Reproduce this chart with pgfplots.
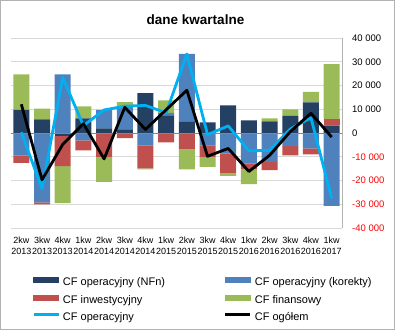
\documentclass[border=0pt]{standalone}
\usepackage{fontspec}
\setmainfont{Liberation Sans}
\usepackage{pgfplots}
\pgfplotsset{compat=1.18}
\usepackage{pgfplotstable}
\definecolor{cnfn}{RGB}{36,64,98}
\definecolor{ckor}{RGB}{79,129,189}
\definecolor{cinw}{RGB}{192,80,77}
\definecolor{cfin}{RGB}{155,187,89}
\definecolor{cop}{RGB}{0,176,240}
\pgfplotstableread{
x nfn kor inw fin op og
0 9700 -9400 -3200 15000 300 12100
1 5700 -29200 -800 4600 -23500 -19700
2 -1300 24700 -12600 -15600 23400 -4800
3 6200 -3100 -4200 5000 3100 3900
4 2000 7700 -10100 -10500 9700 -10900
5 1300 10000 -2200 1700 11300 10800
6 16800 -5200 -9700 -400 11600 1500
7 7400 1100 -3900 5200 8500 9800
8 4900 28400 -6900 -8400 33300 18000
9 4500 -5200 -4900 -4200 -700 -9800
10 11600 -8600 -8400 -1100 3000 -6500
11 5300 -12800 -2500 -6200 -7500 -16200
12 4900 -12200 -3400 1300 -7300 -9400
13 7200 -5500 -3900 2800 1700 600
14 12900 -6500 -2500 4400 6400 8300
15 3200 -30700 2500 23300 -27500 -1700
}\data
\pgfplotsset{base/.style={scale only axis, width=331pt, height=190pt,
  at={(11pt,102pt)}, anchor=south west,
  xmin=-0.5, xmax=15.5, ymin=-40000, ymax=40000}}
\begin{document}
\begin{tikzpicture}[x=1pt,y=1pt]
\useasboundingbox (0,0) rectangle (395,330);
\draw[gray!60, line width=1pt] (0.5,0.5) rectangle (394.5,329.5);
\node[font=\fontsize{13.5}{15}\selectfont\bfseries] at (195.5,310) {dane kwartalne};
% axis 1: grid, labels, positive parts
\begin{axis}[base, ybar stacked, bar width=16pt,
  axis x line*=bottom, axis y line*=right,
  x axis line style={draw=none}, y axis line style={gray!60, line width=0.8pt},
  tick style={draw=none}, scaled y ticks=false,
  ymajorgrids, grid style={gray!30, line width=0.8pt},
  ytick={-40000,-30000,...,40000},
  yticklabels={\textcolor{red}{-40 000},\textcolor{red}{-30 000},\textcolor{red}{-20 000},\textcolor{red}{-10 000},0,10 000,20 000,30 000,40 000},
  yticklabel style={font=\fontsize{9.5}{11}\selectfont, anchor=west, inner sep=0pt, xshift=10pt},
  xtick={0,...,15},
  xticklabels={{2kw\\2013},{3kw\\2013},{4kw\\2013},{1kw\\2014},{2kw\\2014},{3kw\\2014},{4kw\\2014},{1kw\\2015},{2kw\\2015},{3kw\\2015},{4kw\\2015},{1kw\\2016},{2kw\\2016},{3kw\\2016},{4kw\\2016},{1kw\\2017}},
  xticklabel style={font=\fontsize{9}{11}\selectfont, align=center, anchor=north, inner sep=0pt, yshift=-9pt},
  ]
\addplot[fill=cnfn, draw=none] table[x=x, y expr={max(\thisrow{nfn},0)}] {\data};
\addplot[fill=ckor, draw=none] table[x=x, y expr={max(\thisrow{kor},0)}] {\data};
\addplot[fill=cinw, draw=none] table[x=x, y expr={max(\thisrow{inw},0)}] {\data};
\addplot[fill=cfin, draw=none] table[x=x, y expr={max(\thisrow{fin},0)}] {\data};
\end{axis}
% axis 2: negative parts
\begin{axis}[base, ybar stacked, bar width=16pt, hide axis]
\addplot[fill=cnfn, draw=none] table[x=x, y expr={min(\thisrow{nfn},0)}] {\data};
\addplot[fill=ckor, draw=none] table[x=x, y expr={min(\thisrow{kor},0)}] {\data};
\addplot[fill=cinw, draw=none] table[x=x, y expr={min(\thisrow{inw},0)}] {\data};
\addplot[fill=cfin, draw=none] table[x=x, y expr={min(\thisrow{fin},0)}] {\data};
\end{axis}
% axis 3: zero line, lines, legend
\begin{axis}[base, hide axis, clip=false,
  legend columns=2,
  legend style={draw=none, fill=none, inner sep=0pt, at={(0.0634,-0.255)}, anchor=north west,
    font=\fontsize{11}{13}\selectfont,
    nodes={inner sep=0pt, text height=8pt, text depth=2.5pt},
    row sep=6.3pt,
    /tikz/every odd column/.append style={column sep=3pt},
    /tikz/every even column/.append style={column sep=59pt}},
  legend cell align=left]
\draw[black!47, line width=0.8pt] (axis cs:-0.5,0) -- (axis cs:15.5,0);
\addlegendimage{legend image code/.code={\fill[cnfn] (0pt,0.8pt) rectangle (25pt,6.2pt);}}
\addlegendimage{legend image code/.code={\fill[ckor] (0pt,0.8pt) rectangle (25pt,6.2pt);}}
\addlegendimage{legend image code/.code={\fill[cinw] (0pt,0.8pt) rectangle (25pt,6.2pt);}}
\addlegendimage{legend image code/.code={\fill[cfin] (0pt,0.8pt) rectangle (25pt,6.2pt);}}
\addplot[cop, line width=2.8pt, line join=round, no markers, sharp plot,
  legend image code/.code={\draw[cop, line width=2.8pt] (0pt,3.5pt) -- (25pt,3.5pt);}]
  table[x=x, y=op] {\data};
\addplot[black, line width=2.8pt, line join=round, no markers, sharp plot,
  legend image code/.code={\draw[black, line width=2.8pt] (0pt,3.5pt) -- (25pt,3.5pt);}]
  table[x=x, y=og] {\data};
\legend{CF operacyjny (NFn),CF operacyjny (korekty),CF inwestycyjny,CF finansowy,CF operacyjny,CF ogółem}
\end{axis}
\end{tikzpicture}
\end{document}
